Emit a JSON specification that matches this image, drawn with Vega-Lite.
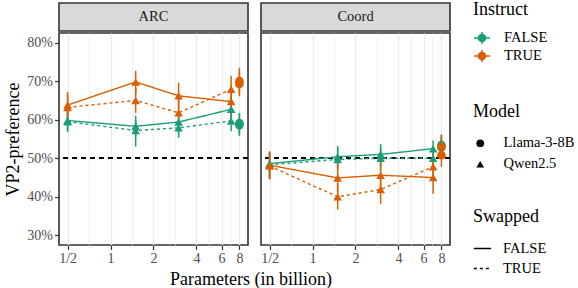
{
  "$schema": "https://vega.github.io/schema/vega-lite/v6.json",
  "padding": {"left": 4, "top": 1, "right": 0, "bottom": 2},
  "title": {"text": "Parameters (in billion)", "orient": "bottom", "anchor": "start", "dx": 166, "dy": -10, "offset": 6, "fontSize": 18, "font": "Liberation Serif", "fontWeight": "normal", "color": "black"},
  "datasets": {
    "d": [
      {"Panel":"ARC","Params":0.5,"Instruct":"FALSE","Model":"Qwen2.5","Swapped":"FALSE","pref":0.598,"lo":0.572,"hi":0.624},
      {"Panel":"ARC","Params":1.5,"Instruct":"FALSE","Model":"Qwen2.5","Swapped":"FALSE","pref":0.583,"lo":0.555,"hi":0.610},
      {"Panel":"ARC","Params":3,"Instruct":"FALSE","Model":"Qwen2.5","Swapped":"FALSE","pref":0.594,"lo":0.566,"hi":0.620},
      {"Panel":"ARC","Params":7,"Instruct":"FALSE","Model":"Qwen2.5","Swapped":"FALSE","pref":0.627,"lo":0.600,"hi":0.654},
      {"Panel":"ARC","Params":0.5,"Instruct":"FALSE","Model":"Qwen2.5","Swapped":"TRUE","pref":0.595,"lo":0.568,"hi":0.622},
      {"Panel":"ARC","Params":1.5,"Instruct":"FALSE","Model":"Qwen2.5","Swapped":"TRUE","pref":0.572,"lo":0.530,"hi":0.600},
      {"Panel":"ARC","Params":3,"Instruct":"FALSE","Model":"Qwen2.5","Swapped":"TRUE","pref":0.579,"lo":0.553,"hi":0.605},
      {"Panel":"ARC","Params":7,"Instruct":"FALSE","Model":"Qwen2.5","Swapped":"TRUE","pref":0.597,"lo":0.570,"hi":0.622},
      {"Panel":"ARC","Params":0.5,"Instruct":"TRUE","Model":"Qwen2.5","Swapped":"FALSE","pref":0.638,"lo":0.605,"hi":0.672},
      {"Panel":"ARC","Params":1.5,"Instruct":"TRUE","Model":"Qwen2.5","Swapped":"FALSE","pref":0.698,"lo":0.668,"hi":0.727},
      {"Panel":"ARC","Params":3,"Instruct":"TRUE","Model":"Qwen2.5","Swapped":"FALSE","pref":0.662,"lo":0.628,"hi":0.696},
      {"Panel":"ARC","Params":7,"Instruct":"TRUE","Model":"Qwen2.5","Swapped":"FALSE","pref":0.647,"lo":0.612,"hi":0.680},
      {"Panel":"ARC","Params":0.5,"Instruct":"TRUE","Model":"Qwen2.5","Swapped":"TRUE","pref":0.632,"lo":0.600,"hi":0.665},
      {"Panel":"ARC","Params":1.5,"Instruct":"TRUE","Model":"Qwen2.5","Swapped":"TRUE","pref":0.650,"lo":0.618,"hi":0.683},
      {"Panel":"ARC","Params":3,"Instruct":"TRUE","Model":"Qwen2.5","Swapped":"TRUE","pref":0.618,"lo":0.585,"hi":0.652},
      {"Panel":"ARC","Params":7,"Instruct":"TRUE","Model":"Qwen2.5","Swapped":"TRUE","pref":0.679,"lo":0.645,"hi":0.714},
      {"Panel":"ARC","Params":8,"Instruct":"FALSE","Model":"Llama-3-8B","Swapped":"FALSE","pref":0.591,"lo":0.562,"hi":0.618},
      {"Panel":"ARC","Params":8,"Instruct":"FALSE","Model":"Llama-3-8B","Swapped":"TRUE","pref":0.586,"lo":0.558,"hi":0.614},
      {"Panel":"ARC","Params":8,"Instruct":"TRUE","Model":"Llama-3-8B","Swapped":"FALSE","pref":0.700,"lo":0.668,"hi":0.735},
      {"Panel":"ARC","Params":8,"Instruct":"TRUE","Model":"Llama-3-8B","Swapped":"TRUE","pref":0.693,"lo":0.661,"hi":0.725},
      {"Panel":"Coord","Params":0.5,"Instruct":"FALSE","Model":"Qwen2.5","Swapped":"FALSE","pref":0.486,"lo":0.452,"hi":0.518},
      {"Panel":"Coord","Params":1.5,"Instruct":"FALSE","Model":"Qwen2.5","Swapped":"FALSE","pref":0.504,"lo":0.475,"hi":0.532},
      {"Panel":"Coord","Params":3,"Instruct":"FALSE","Model":"Qwen2.5","Swapped":"FALSE","pref":0.510,"lo":0.482,"hi":0.537},
      {"Panel":"Coord","Params":7,"Instruct":"FALSE","Model":"Qwen2.5","Swapped":"FALSE","pref":0.525,"lo":0.497,"hi":0.546},
      {"Panel":"Coord","Params":0.5,"Instruct":"FALSE","Model":"Qwen2.5","Swapped":"TRUE","pref":0.483,"lo":0.450,"hi":0.515},
      {"Panel":"Coord","Params":1.5,"Instruct":"FALSE","Model":"Qwen2.5","Swapped":"TRUE","pref":0.497,"lo":0.468,"hi":0.526},
      {"Panel":"Coord","Params":3,"Instruct":"FALSE","Model":"Qwen2.5","Swapped":"TRUE","pref":0.500,"lo":0.470,"hi":0.528},
      {"Panel":"Coord","Params":7,"Instruct":"FALSE","Model":"Qwen2.5","Swapped":"TRUE","pref":0.500,"lo":0.472,"hi":0.528},
      {"Panel":"Coord","Params":0.5,"Instruct":"TRUE","Model":"Qwen2.5","Swapped":"FALSE","pref":0.482,"lo":0.446,"hi":0.516},
      {"Panel":"Coord","Params":1.5,"Instruct":"TRUE","Model":"Qwen2.5","Swapped":"FALSE","pref":0.449,"lo":0.412,"hi":0.490},
      {"Panel":"Coord","Params":3,"Instruct":"TRUE","Model":"Qwen2.5","Swapped":"FALSE","pref":0.456,"lo":0.418,"hi":0.493},
      {"Panel":"Coord","Params":7,"Instruct":"TRUE","Model":"Qwen2.5","Swapped":"FALSE","pref":0.450,"lo":0.408,"hi":0.490},
      {"Panel":"Coord","Params":0.5,"Instruct":"TRUE","Model":"Qwen2.5","Swapped":"TRUE","pref":0.480,"lo":0.445,"hi":0.515},
      {"Panel":"Coord","Params":1.5,"Instruct":"TRUE","Model":"Qwen2.5","Swapped":"TRUE","pref":0.400,"lo":0.367,"hi":0.435},
      {"Panel":"Coord","Params":3,"Instruct":"TRUE","Model":"Qwen2.5","Swapped":"TRUE","pref":0.419,"lo":0.382,"hi":0.455},
      {"Panel":"Coord","Params":7,"Instruct":"TRUE","Model":"Qwen2.5","Swapped":"TRUE","pref":0.478,"lo":0.445,"hi":0.512},
      {"Panel":"Coord","Params":8,"Instruct":"FALSE","Model":"Llama-3-8B","Swapped":"FALSE","pref":0.534,"lo":0.505,"hi":0.560},
      {"Panel":"Coord","Params":8,"Instruct":"FALSE","Model":"Llama-3-8B","Swapped":"TRUE","pref":0.528,"lo":0.500,"hi":0.556},
      {"Panel":"Coord","Params":8,"Instruct":"TRUE","Model":"Llama-3-8B","Swapped":"FALSE","pref":0.530,"lo":0.500,"hi":0.562},
      {"Panel":"Coord","Params":8,"Instruct":"TRUE","Model":"Llama-3-8B","Swapped":"TRUE","pref":0.508,"lo":0.478,"hi":0.540}
    ]
  },
  "resolve": {"scale": {"color": "shared", "shape": "shared", "strokeDash": "shared"}, "legend": {"color": "shared", "shape": "shared", "strokeDash": "shared"}},
  "hconcat": [
    {
      "spacing": 0,
      "vconcat": [
        {
          "width": 189, "height": 28,
          "view": {"fill": "#D9D9D9", "stroke": "#333333", "strokeWidth": 1.6},
          "data": {"values": [{"Panel": "ARC"}]},
          "mark": {"type": "text", "fontSize": 14.5, "color": "#1A1A1A", "font": "Liberation Serif"},
          "encoding": {"text": {"field": "Panel"}}
        },
        {
          "width": 189, "height": 212,
          "data": {"name": "d"},
          "transform": [{"filter": "datum.Panel == 'ARC'"}],
          "layer": [
            {"mark": {"type": "rule", "strokeDash": [5, 4], "color": "black", "strokeWidth": 1.3},
             "encoding": {"y": {"datum": 0.5, "type": "quantitative", "title": "VP2-preference"}}},
            {
              "encoding": {
                "x": {"field": "Params", "type": "quantitative",
                      "scale": {"type": "log", "domain": [0.4353, 9.19], "nice": false, "zero": false},
                      "axis": {"title": null,
                               "values": [0.5, 0.7071, 1, 1.4142, 2, 2.8284, 4, 4.899, 6, 6.928, 8],
                               "labelExpr": "datum.value == 0.5 ? '1/2' : (indexof([1,2,4,6,8], datum.value) >= 0 ? datum.value + '' : '')",
                               "gridWidth": {"condition": {"test": "indexof([0.5,1,2,4,6,8], datum.value) >= 0", "value": 1.3}, "value": 0.7},
                               "tickOpacity": {"condition": {"test": "indexof([0.5,1,2,4,6,8], datum.value) >= 0", "value": 1}, "value": 0}}},
                "y": {"field": "pref", "type": "quantitative",
                      "scale": {"domain": [0.275, 0.825], "nice": false, "zero": false},
                      "axis": {"title": "VP2-preference", "values": [0.3, 0.35, 0.4, 0.45, 0.5, 0.55, 0.6, 0.65, 0.7, 0.75, 0.8],
                               "labelExpr": "indexof([0.3,0.4,0.5,0.6,0.7,0.8], datum.value) >= 0 ? format(datum.value, '.0%') : ''",
                               "titlePadding": 4,
                               "gridWidth": {"condition": {"test": "indexof([0.3,0.4,0.5,0.6,0.7,0.8], datum.value) >= 0", "value": 1.3}, "value": 0.7},
                               "tickOpacity": {"condition": {"test": "indexof([0.3,0.4,0.5,0.6,0.7,0.8], datum.value) >= 0", "value": 1}, "value": 0}}}
              },
              "layer": [
                {"mark": {"type": "line", "strokeWidth": 1.4},
                 "encoding": {
                   "color": {"field": "Instruct", "type": "nominal", "scale": {"domain": ["FALSE", "TRUE"], "range": ["#1B9E77", "#D95F02"]},
                             "legend": {"title": "Instruct", "orient": "none", "legendX": 414, "legendY": -2, "titlePadding": 10, "rowPadding": 0,
                                        "symbolType": "M-1,0L1,0M0,-0.75L0,0.75M0.45,0A0.45,0.45,0,1,1,-0.45,0A0.45,0.45,0,1,1,0.45,0Z",
                                        "symbolSize": 256, "symbolStrokeWidth": 1.5, "labelOffset": 13,
                                        "encode": {"symbols": {"update": {"fill": {"scale": "color", "field": "value"}, "stroke": {"scale": "color", "field": "value"}, "opacity": {"value": 1}}}}}},
                   "strokeDash": {"field": "Swapped", "type": "nominal", "scale": {"range": [[1, 0], [3, 3]]},
                                  "legend": {"title": "Swapped", "orient": "none", "legendX": 414, "legendY": 205, "titlePadding": 13, "rowPadding": 4, "symbolType": "stroke", "symbolSize": 300, "symbolStrokeWidth": 1.5, "labelOffset": 11,
                                             "encode": {"symbols": {"update": {"stroke": {"value": "black"}, "opacity": {"value": 1}}}}}},
                   "detail": {"field": "Model"}
                 }},
                {"mark": {"type": "rule", "strokeWidth": 1.5},
                 "encoding": {"y": {"field": "lo", "type": "quantitative"}, "y2": {"field": "hi"}, "color": {"field": "Instruct", "type": "nominal"}}},
                {"mark": {"type": "point", "filled": true, "opacity": 1, "size": 75},
                 "encoding": {
                   "color": {"field": "Instruct", "type": "nominal"},
                   "shape": {"field": "Model", "type": "nominal", "scale": {"domain": ["Llama-3-8B", "Qwen2.5"], "range": ["circle", "triangle-up"]},
                             "legend": {"title": "Model", "orient": "none", "legendX": 414, "legendY": 100, "titlePadding": 15, "rowPadding": 5, "symbolSize": 60, "labelOffset": 16,
                                        "encode": {"symbols": {"update": {"fill": {"value": "black"}, "stroke": {"value": "black"}, "opacity": {"value": 1}}}}}}
                 }}
              ]
            }
          ]
        }
      ]
    },
    {
      "spacing": 0,
      "vconcat": [
        {
          "width": 189, "height": 28,
          "view": {"fill": "#D9D9D9", "stroke": "#333333", "strokeWidth": 1.6},
          "data": {"values": [{"Panel": "Coord"}]},
          "mark": {"type": "text", "fontSize": 14.5, "color": "#1A1A1A", "font": "Liberation Serif"},
          "encoding": {"text": {"field": "Panel"}}
        },
        {
          "width": 189, "height": 212,
          "data": {"name": "d"},
          "transform": [{"filter": "datum.Panel == 'Coord'"}],
          "layer": [
            {"mark": {"type": "rule", "strokeDash": [5, 4], "color": "black", "strokeWidth": 1.3},
             "encoding": {"y": {"datum": 0.5, "type": "quantitative", "title": null}}},
            {
              "encoding": {
                "x": {"field": "Params", "type": "quantitative",
                      "scale": {"type": "log", "domain": [0.4353, 9.19], "nice": false, "zero": false},
                      "axis": {"title": null, "values": [0.5, 0.7071, 1, 1.4142, 2, 2.8284, 4, 4.899, 6, 6.928, 8],
                               "labelExpr": "datum.value == 0.5 ? '1/2' : (indexof([1,2,4,6,8], datum.value) >= 0 ? datum.value + '' : '')",
                               "gridWidth": {"condition": {"test": "indexof([0.5,1,2,4,6,8], datum.value) >= 0", "value": 1.3}, "value": 0.7},
                               "tickOpacity": {"condition": {"test": "indexof([0.5,1,2,4,6,8], datum.value) >= 0", "value": 1}, "value": 0}}},
                "y": {"field": "pref", "type": "quantitative",
                      "scale": {"domain": [0.275, 0.825], "nice": false, "zero": false},
                      "axis": {"title": null, "labels": false, "ticks": false, "minExtent": 0, "maxExtent": 0,
                               "values": [0.3, 0.35, 0.4, 0.45, 0.5, 0.55, 0.6, 0.65, 0.7, 0.75, 0.8],
                               "gridWidth": {"condition": {"test": "indexof([0.3,0.4,0.5,0.6,0.7,0.8], datum.value) >= 0", "value": 1.3}, "value": 0.7}}}
              },
              "layer": [
                {"mark": {"type": "line", "strokeWidth": 1.4},
                 "encoding": {
                   "color": {"field": "Instruct", "type": "nominal"},
                   "strokeDash": {"field": "Swapped", "type": "nominal"},
                   "detail": {"field": "Model"}
                 }},
                {"mark": {"type": "rule", "strokeWidth": 1.5},
                 "encoding": {"y": {"field": "lo", "type": "quantitative"}, "y2": {"field": "hi"}, "color": {"field": "Instruct", "type": "nominal"}}},
                {"mark": {"type": "point", "filled": true, "opacity": 1, "size": 75},
                 "encoding": {
                   "color": {"field": "Instruct", "type": "nominal"},
                   "shape": {"field": "Model", "type": "nominal"}
                 }}
              ]
            }
          ]
        }
      ]
    }
  ],
  "config": {
    "font": "Liberation Serif",
    "concat": {"spacing": 9},
    "view": {"stroke": "#333333", "strokeWidth": 1.6},
    "axis": {"domain": false, "tickColor": "#333333", "tickSize": 4.5, "tickWidth": 1.2, "labelColor": "#4D4D4D", "labelFontSize": 14,
             "labelFont": "Liberation Serif", "titleFont": "Liberation Serif", "titleFontSize": 18, "titleFontWeight": "normal", "titleColor": "black",
             "gridColor": "#EBEBEB", "labelPadding": 2},
    "legend": {"titleFontSize": 18, "titleFontWeight": "normal", "labelFontSize": 14.5, "labelFont": "Liberation Serif", "titleFont": "Liberation Serif",
               "labelColor": "black", "titleColor": "black", "rowPadding": 3}
  }
}
